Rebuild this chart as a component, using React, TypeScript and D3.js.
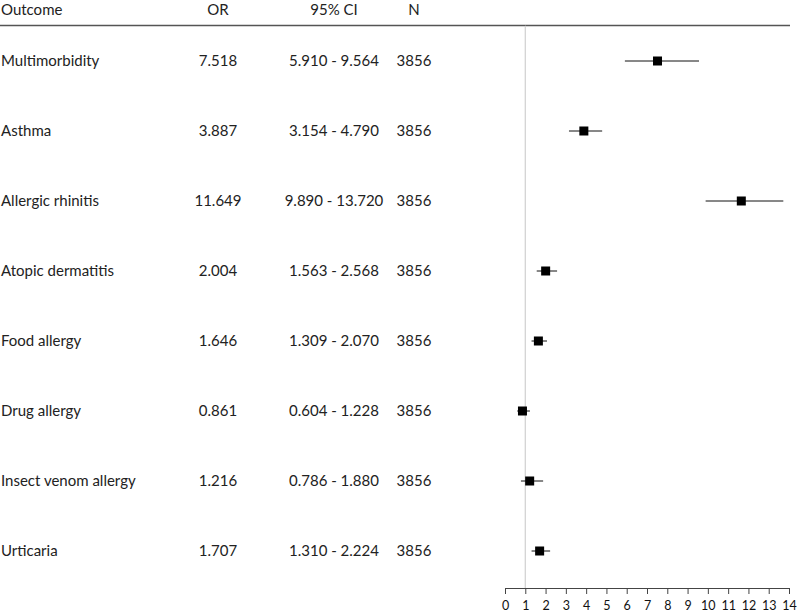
import React, { useEffect, useRef } from "react";
import * as d3 from "d3";

const outcomes = [
  "Multimorbidity",
  "Asthma",
  "Allergic rhinitis",
  "Atopic dermatitis",
  "Food allergy",
  "Drug allergy",
  "Insect venom allergy",
  "Urticaria",
];
const orValues = [7.518, 3.887, 11.649, 2.004, 1.646, 0.861, 1.216, 1.707];
const ciLow = [5.91, 3.154, 9.89, 1.563, 1.309, 0.604, 0.786, 1.31];
const ciHigh = [9.564, 4.79, 13.72, 2.568, 2.07, 1.228, 1.88, 2.224];
const nValues = [3856, 3856, 3856, 3856, 3856, 3856, 3856, 3856];
const xTicks = d3.range(0, 15);

const W = 797;
const H = 615;
const FONT = "Lato, 'Open Sans', sans-serif";

export default function App() {
  const ref = useRef<SVGGElement>(null);

  useEffect(() => {
    const svg = d3.select(ref.current);
    svg.selectAll("*").remove();
    svg.attr("font-family", FONT).attr("font-size", 15);

    const x = d3.scaleLinear().domain([0, 14]).range([505, 789]);
    const y = d3
      .scaleBand()
      .domain(d3.range(outcomes.length).map(String))
      .range([26, 586]);
    const cy = (i: number) => (y(String(i)) as number) + y.bandwidth() / 2;
    const axisY = 588;

    // header
    const header = svg.append("g").attr("fill", "#222");
    header.append("text").attr("x", 1).attr("y", 14.5).text("Outcome");
    header.append("text").attr("x", 218).attr("y", 14.5).attr("text-anchor", "middle").text("OR");
    header.append("text").attr("x", 334).attr("y", 14.5).attr("text-anchor", "middle").text("95% CI");
    header.append("text").attr("x", 414).attr("y", 14.5).attr("text-anchor", "middle").text("N");

    // header rule, split at the reference line
    const ruleY = 25.5;
    svg.append("g")
      .attr("stroke", "#555")
      .attr("stroke-width", 1.5)
      .selectAll("line")
      .data([[0, x(1)], [x(1), 790]])
      .join("line")
      .attr("x1", (d) => d[0])
      .attr("x2", (d) => d[1])
      .attr("y1", ruleY)
      .attr("y2", ruleY);

    // reference line at 1
    svg.append("line")
      .attr("x1", x(1)).attr("x2", x(1))
      .attr("y1", 26).attr("y2", axisY)
      .attr("stroke", "#d0d0d0").attr("stroke-width", 1.2);

    // table rows
    const rows = svg.append("g").attr("fill", "#222");
    outcomes.forEach((o, i) => {
      const yy = cy(i) + 5;
      rows.append("text").attr("x", 1).attr("y", yy).text(o);
      rows.append("text").attr("x", 218).attr("y", yy).attr("text-anchor", "middle").text(orValues[i].toFixed(3));
      rows.append("text").attr("x", 334).attr("y", yy).attr("text-anchor", "middle")
        .text(`${ciLow[i].toFixed(3)} - ${ciHigh[i].toFixed(3)}`);
      rows.append("text").attr("x", 414).attr("y", yy).attr("text-anchor", "middle").text(nValues[i]);
    });

    // CI lines and squares
    const marks = svg.append("g");
    marks.selectAll("line")
      .data(orValues)
      .join("line")
      .attr("x1", (_, i) => x(ciLow[i]))
      .attr("x2", (_, i) => x(ciHigh[i]))
      .attr("y1", (_, i) => cy(i))
      .attr("y2", (_, i) => cy(i))
      .attr("stroke", "#111")
      .attr("stroke-width", 1);
    marks.selectAll("rect")
      .data(orValues)
      .join("rect")
      .attr("x", (d) => x(d) - 4.5)
      .attr("y", (_, i) => cy(i) - 4.5)
      .attr("width", 9)
      .attr("height", 9)
      .attr("fill", "#000");

    // x axis
    const axis = d3.axisBottom(x).tickValues(xTicks).tickSize(6).tickSizeOuter(0).tickFormat(d3.format("d"));
    const g = svg.append("g").attr("transform", `translate(0,${axisY})`).call(axis);
    g.select(".domain").attr("stroke", "#444");
    g.selectAll(".tick line").attr("stroke", "#444");
    g.selectAll(".tick text")
      .attr("fill", "#111")
      .attr("font-size", 12.5)
      .attr("font-family", FONT)
      .attr("dy", "1.05em");
  }, []);

  return (
    <svg
      width={W}
      height={H}
      style={{ position: "absolute", left: 0, top: 0, display: "block", background: "#fff" }}
    >
      <g ref={ref} />
    </svg>
  );
}
